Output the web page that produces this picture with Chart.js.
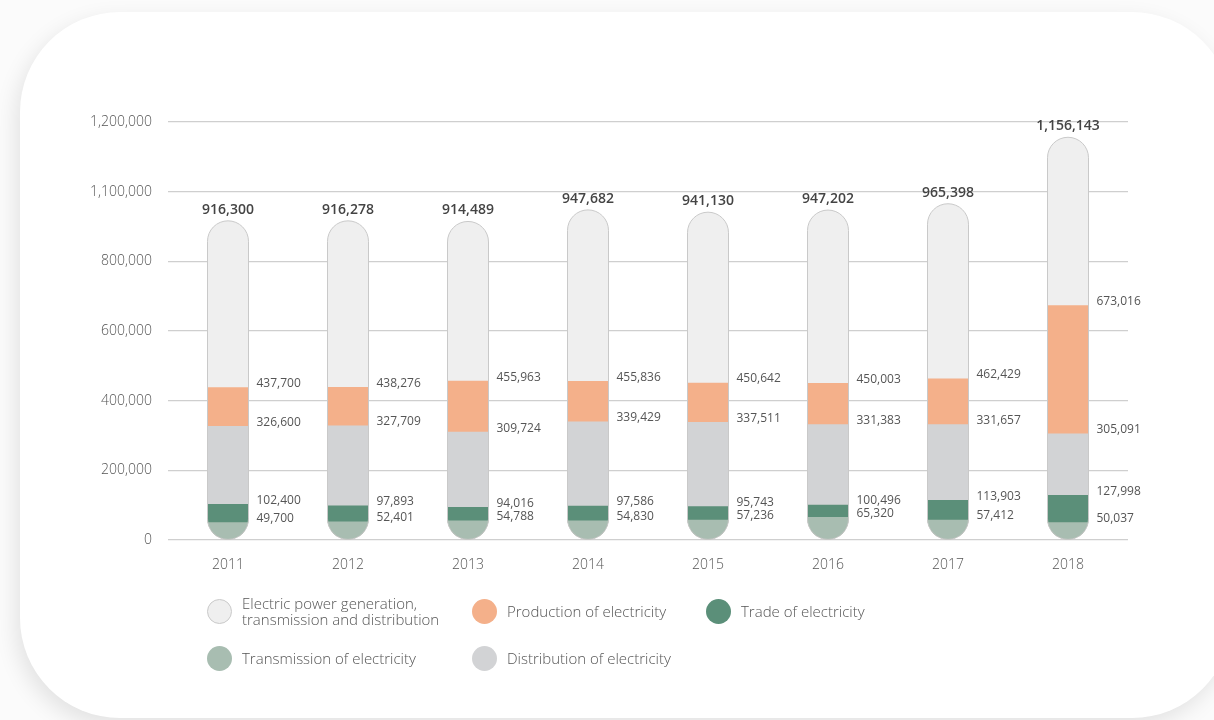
<!DOCTYPE html>
<html lang="en">
<head>
    <meta charset="UTF-8">
    <title>Electricity sector</title>
    <script src="https://cdn.jsdelivr.net/npm/chart.js"></script>
    <style>
        body { margin: 0; background: #fbfbfb; font-family: "Open Sans", sans-serif; }
        .wrap { position: relative; width: 1214px; height: 720px; overflow: hidden; }
        .card {
            position: absolute; left: 20px; top: 12px; width: 1212px; height: 706px;
            background: #fff; border-radius: 100px;
            box-shadow: -4px 8px 22px rgba(0, 0, 0, 0.10);
        }
        canvas { position: absolute; left: 0; top: 0; }
        .legend { position: absolute; font-size: 15px; font-weight: 300; color: #555; line-height: 16px; }
        .legend .dot {
            position: absolute; width: 25px; height: 25px; border-radius: 50%;
            box-sizing: border-box;
        }
    </style>
</head>
<body>
<div class="wrap">
    <div class="card"></div>
    <canvas id="chart" width="1214" height="720"></canvas>
    <div id="legend"></div>
</div>

<script>
    // data
    const years = ['2011', '2012', '2013', '2014', '2015', '2016', '2017', '2018'];
    const totalSector = [916300, 916278, 914489, 947682, 941130, 947202, 965398, 1156143];
    const production = [437700, 438276, 455963, 455836, 450642, 450003, 462429, 673016];
    const distribution = [326600, 327709, 309724, 339429, 337511, 331383, 331657, 305091];
    const trade = [102400, 97893, 94016, 97586, 95743, 100496, 113903, 127998];
    const transmission = [49700, 52401, 54788, 54830, 57236, 65320, 57412, 50037];
    const yTickLabels = ['0', '200,000', '400,000', '600,000', '800,000', '1,100,000', '1,200,000'];

    const colors = {
        total: '#efefef',
        production: '#f4b08a',
        distribution: '#d2d3d5',
        trade: '#5b8f79',
        transmission: '#a8bdb1'
    };

    const fmt = v => v.toLocaleString('en-US');
    const FONT = '"Open Sans", sans-serif';

    // clip every bar to the pill shape of the total bar
    function pillPath(ctx, el) {
        const r = el.width / 2;
        const top = el.y, bottom = el.base;
        ctx.moveTo(el.x - r, top + r);
        ctx.arc(el.x, top + r, r, Math.PI, 0);
        ctx.lineTo(el.x + r, bottom - r);
        ctx.arc(el.x, bottom - r, r, 0, Math.PI);
        ctx.closePath();
    }

    const pillPlugin = {
        id: 'pills',
        beforeDatasetsDraw(chart) {
            const ctx = chart.ctx;
            ctx.save();
            ctx.beginPath();
            chart.getDatasetMeta(0).data.forEach(el => pillPath(ctx, el));
            ctx.clip();
        },
        afterDatasetsDraw(chart) {
            const ctx = chart.ctx;
            ctx.restore();
            ctx.save();
            ctx.strokeStyle = '#c9c9c9';
            ctx.lineWidth = 1;
            chart.getDatasetMeta(0).data.forEach(el => {
                ctx.beginPath();
                pillPath(ctx, el);
                ctx.stroke();
            });

            // totals above the bars
            ctx.fillStyle = '#444';
            ctx.font = '600 14px ' + FONT;
            ctx.textAlign = 'center';
            ctx.textBaseline = 'bottom';
            chart.getDatasetMeta(0).data.forEach((el, i) => {
                ctx.fillText(fmt(totalSector[i]), el.x, el.y - 4);
            });

            // segment values on the right
            ctx.fillStyle = '#555';
            ctx.font = '12px ' + FONT;
            ctx.textAlign = 'left';
            ctx.textBaseline = 'middle';
            for (let d = 1; d < chart.data.datasets.length; d++) {
                const vals = chart.data.datasets[d].data;
                chart.getDatasetMeta(d).data.forEach((el, i) => {
                    ctx.fillText(fmt(vals[i]), el.x + el.width / 2 + 8, el.y - 4);
                });
            }
            ctx.restore();
        }
    };

    const datasets = [
        { label: 'Electric power generation, transmission and distribution', data: totalSector, backgroundColor: colors.total, order: 5 },
        { label: 'Production of electricity', data: production, backgroundColor: colors.production, order: 4 },
        { label: 'Distribution of electricity', data: distribution, backgroundColor: colors.distribution, order: 3 },
        { label: 'Trade of electricity', data: trade, backgroundColor: colors.trade, order: 2 },
        { label: 'Transmission of electricity', data: transmission, backgroundColor: colors.transmission, order: 1 }
    ];

    new Chart(document.getElementById('chart'), {
        type: 'bar',
        data: { labels: years, datasets: datasets },
        plugins: [pillPlugin],
        options: {
            responsive: false,
            animation: false,
            datasets: { bar: { grouped: false, barThickness: 41, borderWidth: 0 } },
            layout: { padding: { left: 60, right: 86, top: 122, bottom: 140 } },
            plugins: { legend: { display: false }, tooltip: { enabled: false } },
            scales: {
                x: {
                    grid: { display: false },
                    border: { display: false },
                    ticks: { padding: 9, color: '#555', font: { family: FONT, size: 14, weight: 300 } },
                    afterFit: s => { s.height = 40; }
                },
                y: {
                    min: 0,
                    max: 1200000,
                    border: { display: false },
                    grid: { color: '#cfcfcf', lineWidth: 1.2, drawTicks: false },
                    ticks: {
                        stepSize: 200000,
                        padding: 16,
                        color: '#555',
                        font: { family: FONT, size: 14, weight: 300 },
                        callback: (v, i) => yTickLabels[i]
                    },
                    afterFit: s => { s.width = 108; }
                }
            }
        }
    });

    // legend, laid out like the original in two rows
    const legendItems = [
        { text: 'Electric power generation,<br>transmission and distribution', color: colors.total, border: '#c9c9c9', x: 207, y: 599 },
        { text: 'Production of electricity', color: colors.production, x: 472, y: 599 },
        { text: 'Trade of electricity', color: colors.trade, x: 706, y: 599 },
        { text: 'Transmission of electricity', color: colors.transmission, x: 207, y: 646 },
        { text: 'Distribution of electricity', color: colors.distribution, x: 472, y: 646 }
    ];
    const legendEl = document.getElementById('legend');
    legendItems.forEach(item => {
        const box = document.createElement('div');
        box.className = 'legend';
        box.style.left = item.x + 'px';
        box.style.top = item.y + 'px';
        const dot = document.createElement('div');
        dot.className = 'dot';
        dot.style.background = item.color;
        if (item.border) dot.style.border = '1px solid ' + item.border;
        box.appendChild(dot);
        const label = document.createElement('div');
        label.style.position = 'absolute';
        label.style.left = '35px';
        label.style.whiteSpace = 'nowrap';
        const twoLines = item.text.indexOf('<br>') >= 0;
        label.style.top = twoLines ? '-4px' : '4px';
        label.innerHTML = item.text;
        box.appendChild(label);
        legendEl.appendChild(box);
    });
</script>
</body>
</html>
